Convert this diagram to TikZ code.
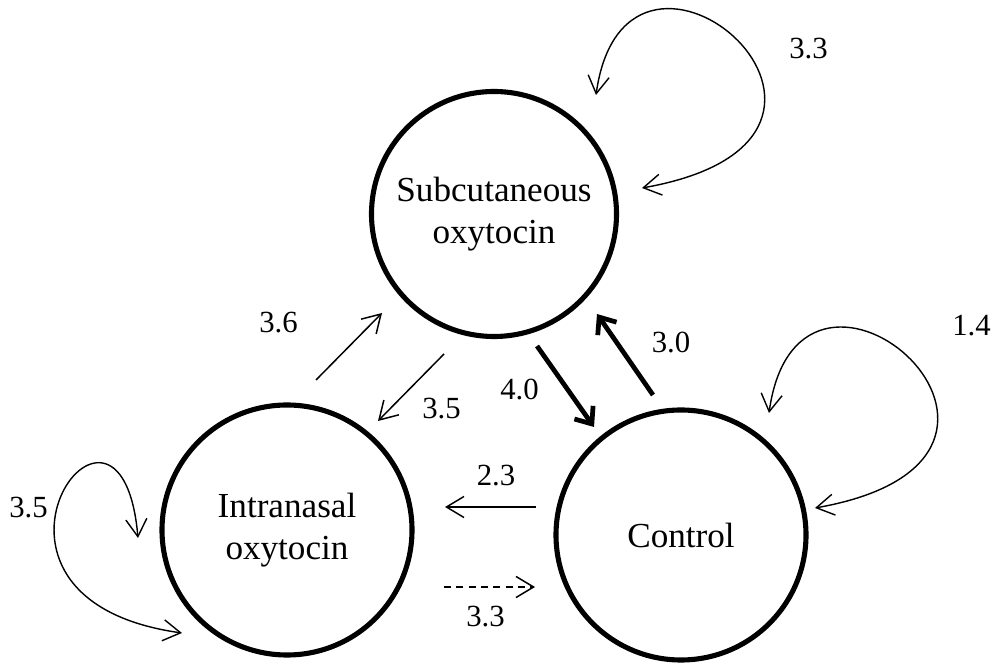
\documentclass[tikz,border=0pt]{standalone}
\usepackage{fontspec}
\setmainfont{Liberation Serif}
\usetikzlibrary{arrows.meta}
\begin{document}
\begin{tikzpicture}[
  group/.style={draw, circle, line width=2.9pt, minimum size=5cm, inner sep=0pt, align=center, font=\fontsize{20}{23.5}\selectfont},
  rate/.style={font=\fontsize{17.5}{20}\selectfont, inner sep=0pt},
  flow/.style={line width=0.85pt, -{Straight Barb[length=10pt,width=12pt]}},
  strong/.style={line width=2.7pt, -{Straight Barb[length=8pt,width=13pt]}},
  selfarc/.style={line width=0.8pt, {Straight Barb[length=10pt,width=12pt]}-{Straight Barb[length=10pt,width=12pt]}}
]
\useasboundingbox (0,0) rectangle (19.92,13.28);

\node[group, minimum size=4.9cm] (sub) at (9.88,9.00) {Subcutaneous\\oxytocin};
\node[group] (intr) at (5.74,2.68) {Intranasal\\oxytocin};
\node[group] (ctrl) at (13.62,2.58) {Control};

% ends of the arrows between groups
\coordinate (is0) at (6.32,5.68);  \coordinate (is1) at (7.64,7.02);
\coordinate (si0) at (8.88,6.20);  \coordinate (si1) at (7.56,4.86);
\coordinate (sc0) at (10.74,6.36); \coordinate (sc1) at (11.88,4.74);
\coordinate (cs0) at (13.06,5.38); \coordinate (cs1) at (11.94,7.00);
\coordinate (ci0) at (10.72,3.14); \coordinate (ci1) at (8.90,3.14);
\coordinate (ic0) at (8.88,1.54);  \coordinate (ic1) at (10.70,1.54);

% ends of the loops
\coordinate (ss0) at (12.84,9.52); \coordinate (ss1) at (11.92,11.38);
\coordinate (cc0) at (16.30,3.12); \coordinate (cc1) at (15.38,5.02);
\coordinate (ii0) at (3.64,0.62);  \coordinate (ii1) at (2.76,2.52);

\path[draw,flow] (is0) -- (is1);
\path[draw,flow] (si0) -- (si1);
\path[draw,strong] (sc0) -- (sc1);
\path[draw,strong] (cs0) -- (cs1);
\path[draw,flow] (ci0) -- (ci1);
\path[draw,flow,dash pattern=on 4pt off 3pt] (ic0) -- (ic1);

\path[draw,selfarc] (ss0) .. controls +(10:5.8) and +(82:4.4) .. (ss1);
\path[draw,selfarc] (cc0) .. controls +(10:5.8) and +(82:4.4) .. (cc1);
\path[draw,selfarc] (ii0) .. controls +(172:5) and +(95:4) .. (ii1);

\node[rate] (r1) at (16.17,12.30) {3.3};
\node[rate] (r2) at (19.43,6.77) {1.4};
\node[rate] (r3) at (0.57,3.12) {3.5};
\node[rate] (r4) at (5.57,6.83) {3.6};
\node[rate] (r5) at (8.83,5.11) {3.5};
\node[rate] (r6) at (10.39,5.50) {4.0};
\node[rate] (r7) at (13.42,6.43) {3.0};
\node[rate] (r8) at (9.92,3.77) {2.3};
\node[rate] (r9) at (9.71,0.94) {3.3};
\end{tikzpicture}
\end{document}
